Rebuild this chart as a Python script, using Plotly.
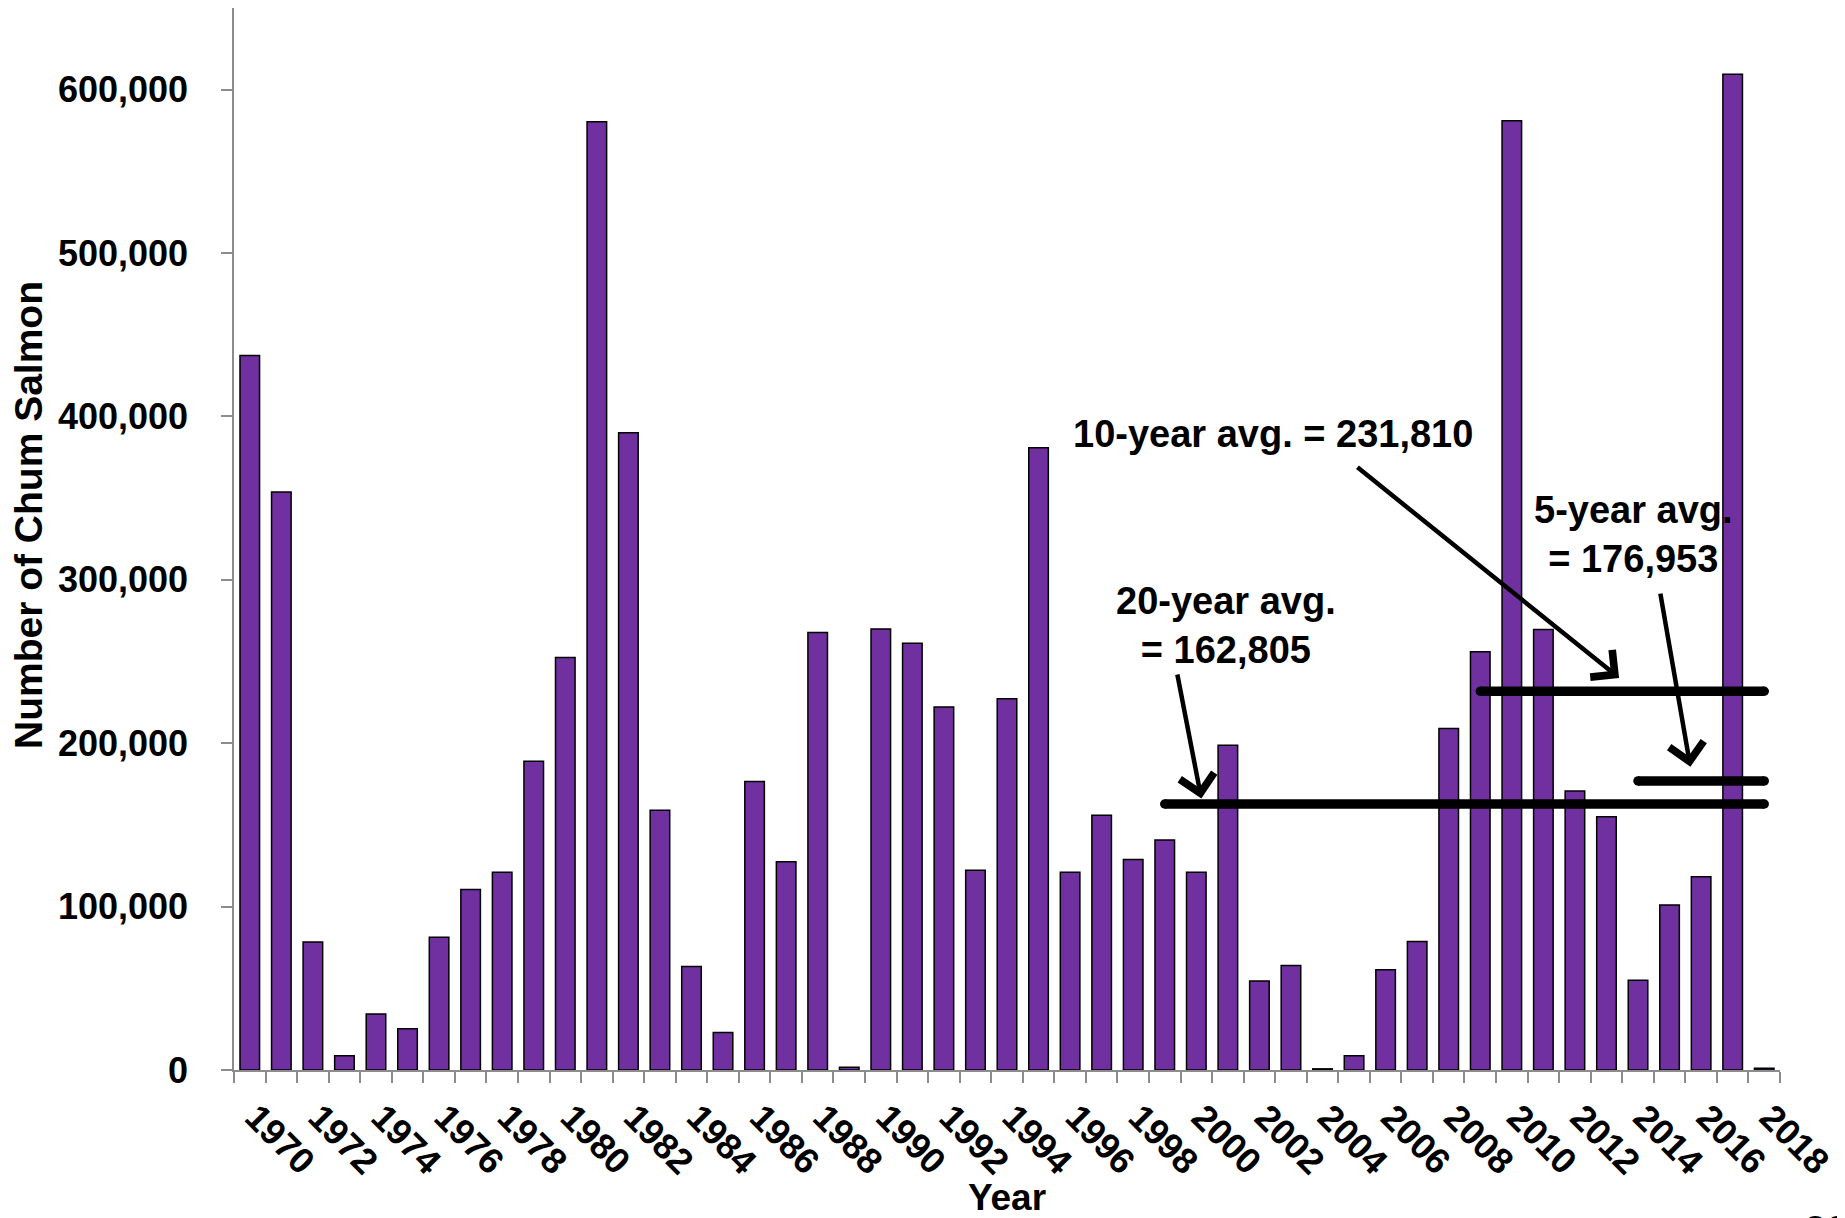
import plotly.graph_objects as go

years = list(range(1970, 2019))
counts = [437300, 353800, 78300, 8700, 34200, 25300, 81200, 110400, 121000, 188900,
          252500, 580400, 390000, 159000, 63400, 22900, 176600, 127500, 267700, 1700,
          269900, 261200, 222200, 122200, 227200, 380800, 121000, 155900, 128900, 140700,
          121000, 198800, 54500, 63900, 700, 8700, 61400, 78600, 209000, 256000,
          581000, 269600, 170800, 155000, 55000, 101000, 118300, 609400, 1000]

label_years = list(range(1970, 2019, 2))
label_text = [str(y) for y in label_years]
y_ticks = [0, 100000, 200000, 300000, 400000, 500000, 600000]

avg_names = ["20-year avg.<br>= 162,805", "10-year avg. = 231,810", "5-year avg.<br>= 176,953"]
avg_values = [162805, 231810, 176953]
avg_start = [1999, 2009, 2014]
avg_end = 2018

FONT = "Liberation Sans, Arial, sans-serif"
GREY = "#8c8c8c"

fig = go.Figure()
fig.add_trace(go.Bar(x=years, y=counts, width=0.62,
                     marker=dict(color="#7030A0", line=dict(color="black", width=1.5)),
                     showlegend=False))

for v, s in zip(avg_values, avg_start):
    fig.add_trace(go.Scatter(x=[s, avg_end], y=[v, v], mode="lines+markers",
                             line=dict(color="black", width=9.5),
                             marker=dict(color="black", size=9.5, symbol="circle"),
                             showlegend=False, hoverinfo="skip"))

# text labels (data coords)
text_pos = [(2000.94, 272000), (2002.43, 389000), (2013.87, 327700)]
for t, (tx, ty) in zip(avg_names, text_pos):
    fig.add_annotation(x=tx, y=ty, xref="x", yref="y", text="<b>" + t + "</b>",
                       showarrow=False, font=dict(family=FONT, size=38, color="black"),
                       align="center", xanchor="center", yanchor="middle")

# arrows: (head_x, head_y, tail_x, tail_y)
arrows = [(2000.16, 166200, 1999.39, 243000),
          (2013.40, 240000, 2005.06, 369600),
          (2015.66, 185600, 2014.70, 292500)]
for hx, hy, tx, ty in arrows:
    fig.add_annotation(x=hx, y=hy, ax=tx, ay=ty, xref="x", yref="y", axref="x", ayref="y",
                       text="", showarrow=True, arrowhead=4, arrowsize=1.5,
                       arrowwidth=4.5, arrowcolor="black", standoff=0)

# y-axis title
fig.add_annotation(x=-0.1326, y=0.5226, xref="paper", yref="paper",
                   text="<b>Number of Chum Salmon</b>", textangle=-90, showarrow=False,
                   xanchor="center", yanchor="middle",
                   font=dict(family=FONT, size=39, color="black"))

# page number (cut off at the bottom edge)
fig.add_annotation(x=1.0142, y=-0.128, xref="paper", yref="paper", text="22", showarrow=False,
                   xanchor="left", yanchor="top", font=dict(family=FONT, size=40, color="black"))

fig.update_layout(
    width=1837, height=1210,
    margin=dict(l=226, r=65, t=0, b=148),
    plot_bgcolor="white", paper_bgcolor="white",
    xaxis=dict(range=[1969.5, 2018.5], tickmode="array", tickvals=label_years, ticktext=label_text,
               tickangle=45, ticks="", showline=True, linecolor=GREY, linewidth=1.5,
               ticklabelstandoff=10, ticklabelshift=6,
               showgrid=False, zeroline=False,
               tickfont=dict(family=FONT, size=36, color="black", weight="bold"),
               minor=dict(tickmode="linear", tick0=1969.5, dtick=1, ticks="outside",
                          ticklen=11, tickcolor=GREY, tickwidth=1.5, showgrid=False),
               title=dict(text="<b>Year</b>", font=dict(family=FONT, size=37, color="black"),
                          standoff=2)),
    yaxis=dict(range=[0, 650000], tickmode="array", tickvals=y_ticks, tickformat=",",
               ticks="outside", ticklen=11, tickcolor=GREY, tickwidth=1.5,
               ticklabelstandoff=26,
               showline=True, linecolor=GREY, linewidth=1.5, showgrid=False, zeroline=False,
               tickfont=dict(family=FONT, size=36, color="black", weight="bold")),
)

fig.write_html("out.html")
